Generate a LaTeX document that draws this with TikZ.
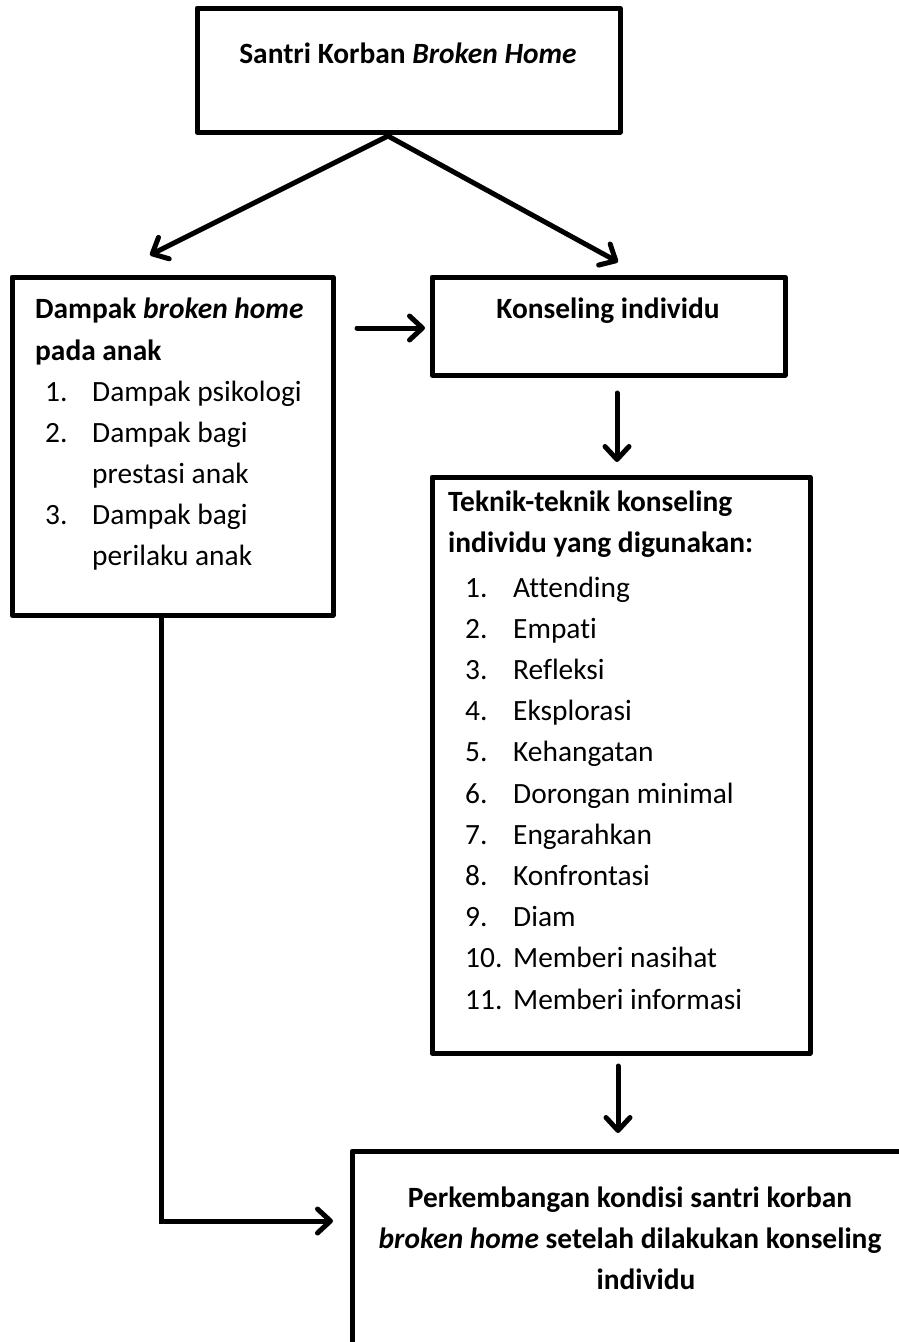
\documentclass[tikz,border=0pt]{standalone}
\usepackage{fontspec}
\setmainfont{Carlito}[Ligatures={NoCommon}]
\usetikzlibrary{arrows.meta}
\begin{document}
\begin{tikzpicture}[x=1pt,y=-1pt,
  box/.style={draw, line width=5pt, line join=round, anchor=north west, inner sep=0pt, outer sep=0pt},
  arr/.style={line width=5pt, line cap=round, -{Straight Barb[length=13pt,width=24pt,round]}},
  txt/.style={inner sep=0pt, anchor=base west, font=\fontsize{29.4}{34}\selectfont},
  ctxt/.style={txt, anchor=base}]
\useasboundingbox (0,0) rectangle (898,1342);
% boxes
\node[box, minimum width=423pt, minimum height=124pt] (top) at (197,8) {};
\node[box, minimum width=321pt, minimum height=338pt] (dampak) at (12,277) {};
\node[box, minimum width=353pt, minimum height=98pt] (konsel) at (432,277) {};
\node[box, minimum width=378pt, minimum height=576pt] (teknik) at (432,477) {};
\node[box, minimum width=580pt, minimum height=300pt] (hasil) at (352,1151) {};
% texts
\node[ctxt] (ttop) at (408,63) {\textbf{Santri Korban \textit{Broken Home}}};
\node[txt] (d0) at (35,318) {\textbf{Dampak \textit{broken home}}};
\node[txt] (d0b) at (35,360) {\textbf{pada anak}};
\foreach \n/\t/\y in {1./Dampak psikologi/401, 2./Dampak bagi/442, /prestasi anak/483, 3./Dampak bagi/524, /perilaku anak/565}{
  \node[txt] (dn\y) at (45,\y) {\n};
  \node[txt] (dt\y) at (92,\y) {\t};
}
\node[ctxt] (tkon) at (608,318) {\textbf{Konseling individu}};
\node[txt] (k0) at (448,511) {\textbf{Teknik-teknik konseling}};
\node[txt] (k0b) at (448,552) {\textbf{individu yang digunakan:}};
\foreach \n/\t [count=\i from 0] in {1./Attending, 2./Empati, 3./Refleksi, 4./Eksplorasi, 5./Kehangatan, 6./Dorongan minimal, 7./Engarahkan, 8./Konfrontasi, 9./Diam, 10./Memberi nasihat, 11./Memberi informasi}{
  \node[txt] (kn\i) at (465,597+41.2*\i) {\n};
  \node[txt] (kt\i) at (513,597+41.2*\i) {\t};
}
\node[ctxt] (h1) at (630,1207) {\textbf{Perkembangan kondisi santri korban}};
\node[ctxt] (h2) at (630,1248) {\textbf{\textit{broken home} setelah dilakukan konseling}};
\node[ctxt] (h3) at (646,1289) {\textbf{individu}};
% connectors
\coordinate (apex) at (388,136);
\coordinate (tipL) at (150,255);
\coordinate (tipR) at (618,262);
\draw[arr] (apex) -- (tipL);
\draw[arr] (apex) -- (tipR);
\coordinate (hs) at (357,328);
\coordinate (he) at (425,328);
\draw[arr] (hs) -- (he);
\coordinate (v1s) at (617,393);
\coordinate (v1e) at (617,462);
\draw[arr] (v1s) -- (v1e);
\coordinate (v2s) at (618,1066);
\coordinate (v2e) at (618,1133);
\draw[arr] (v2s) -- (v2e);
\coordinate (elb) at (161,1221);
\coordinate (elbend) at (333,1221);
\draw[arr, line join=miter, line cap=butt] (dampak.south -| elb) -- (elb) -- (elbend);
\end{tikzpicture}
\end{document}
